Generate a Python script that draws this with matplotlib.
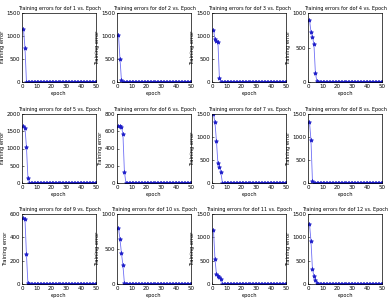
import numpy as np
import matplotlib.pyplot as plt

# training error per epoch for each dof (tail is ~flat near zero)
epochs = np.arange(1, 51)
dof_ids = list(range(1, 13))

head_values = [
    [1150, 750, 10],
    [1030, 510, 40, 5],
    [1130, 930, 900, 880, 80, 10],
    [900, 730, 650, 550, 130, 10],
    [1650, 1600, 1050, 150, 10],
    [660, 660, 650, 570, 130, 5],
    [1490, 1320, 910, 430, 350, 230, 10],
    [1330, 940, 50, 10],
    [565, 560, 255, 5],
    [800, 640, 440, 270, 10],
    [1160, 540, 210, 180, 150, 100, 10],
    [1290, 930, 320, 170, 80, 20, 5],
]
tail_level = [3, 3, 3, 2, 4, 1, 3, 3, 1, 2, 3, 3]

y_max = [1500, 1500, 1500, 1000, 2000, 800, 1500, 1500, 600, 1000, 1500, 1500]
y_step = [500, 500, 500, 500, 500, 200, 500, 500, 200, 500, 500, 500]
x_ticks = [0, 10, 20, 30, 40, 50]

W, H = 388, 302
fig = plt.figure(figsize=(W / 100, H / 100), dpi=100)

col_left = [22, 117, 212, 308]
col_width = 74
row_top = [13, 114, 214]
row_height = [69, 69, 70]

for i, dof in enumerate(dof_ids):
    r, c = divmod(i, 4)
    left = col_left[c] / W
    bottom = 1 - (row_top[r] + row_height[r]) / H
    ax = fig.add_axes([left, bottom, col_width / W, row_height[r] / H])

    vals = head_values[i] + [tail_level[i]] * (len(epochs) - len(head_values[i]))
    ax.plot(epochs, vals, '-', color='#6f6ff5', linewidth=0.6)
    ax.plot(epochs, vals, '*', color='#1c1cc8', markersize=3, markeredgewidth=0.5)

    ax.set_xlim(0, 50)
    ax.set_ylim(0, y_max[i])
    ax.set_xticks(x_ticks)
    ax.set_yticks(np.arange(0, y_max[i] + 1, y_step[i]))
    ax.tick_params(labelsize=4, length=1.5, width=0.4, pad=1.2, direction='in')
    for s in ax.spines.values():
        s.set_linewidth(0.5)
    ax.set_title(f'Training errors for dof {dof} vs. Epoch', fontsize=3.5, pad=2.5)
    ax.set_xlabel('epoch', fontsize=3.7, labelpad=1.5)
    ax.set_ylabel('Training error', fontsize=3.7, labelpad=1.0)

fig.savefig('out.png', dpi=100)
